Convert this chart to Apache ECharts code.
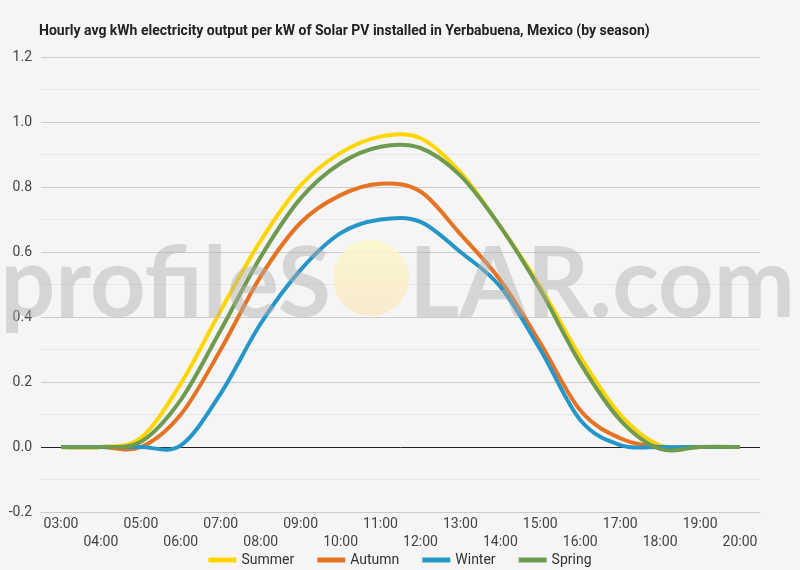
<!DOCTYPE html>
<html>
<head>
<meta charset="utf-8">
<script src="https://cdn.jsdelivr.net/npm/echarts@6/dist/echarts.min.js"></script>
<style>
html,body{margin:0;padding:0;background:#f5f5f5;}
#c{width:800px;height:570px;}
</style>
</head>
<body>
<div id="c"></div>
<script>
const hours = ['03:00','04:00','05:00','06:00','07:00','08:00','09:00','10:00','11:00','12:00','13:00','14:00','15:00','16:00','17:00','18:00','19:00','20:00'];
const summer = [0, 0, 0.028, 0.195, 0.42, 0.635, 0.805, 0.905, 0.955, 0.95, 0.845, 0.678, 0.493, 0.278, 0.10, 0.005, 0, 0];
const autumn = [0, 0, 0, 0.10, 0.30, 0.525, 0.69, 0.775, 0.81, 0.786, 0.655, 0.513, 0.32, 0.113, 0.027, 0, 0, 0];
const winter = [0, 0, 0, 0.005, 0.165, 0.38, 0.545, 0.658, 0.70, 0.693, 0.60, 0.493, 0.30, 0.083, 0.006, 0, 0, 0];
const spring = [0, 0, 0.016, 0.145, 0.36, 0.585, 0.765, 0.873, 0.924, 0.92, 0.835, 0.678, 0.483, 0.258, 0.083, -0.006, 0, 0];
const seriesNames = ['Summer','Autumn','Winter','Spring'];
const colors = ['#FFD500','#E67324','#2596C8','#6E9B4F'];
const yTicks = {min:-0.2, max:1.2, interval:0.2};

const chart = echarts.init(document.getElementById('c'));
const font = 'Roboto, "Noto Sans", sans-serif';

// Smooth curve (Catmull-Rom) through the points, positioned by the chart's own axes (api.coord)
function renderCurve(color){
  return function(params, api){
    if (params.dataIndexInside !== 0) return null;
    const n = params.dataInsideLength;
    const pts = [];
    for (let j = 0; j < n; j++) pts.push(api.coord([api.value(0, j), api.value(1, j)]));
    let d = 'M' + pts[0][0] + ' ' + pts[0][1];
    for (let j = 0; j < n - 1; j++) {
      const p0 = pts[Math.max(j - 1, 0)], p1 = pts[j], p2 = pts[j + 1], p3 = pts[Math.min(j + 2, n - 1)];
      const c1x = p1[0] + (p2[0] - p0[0]) / 6, c1y = p1[1] + (p2[1] - p0[1]) / 6;
      const c2x = p2[0] - (p3[0] - p1[0]) / 6, c2y = p2[1] - (p3[1] - p1[1]) / 6;
      d += ' C' + c1x + ' ' + c1y + ' ' + c2x + ' ' + c2y + ' ' + p2[0] + ' ' + p2[1];
    }
    return {type:'path', shape:{pathData:d}, style:{stroke:color, lineWidth:4, fill:'none', lineJoin:'round'}, silent:true};
  };
}
function mk(name, data, i){
  return {name:name, type:'custom', data:data.map(function(v, k){return [k, v];}),
    encode:{x:0, y:1}, clip:false, renderItem:renderCurve(colors[i]),
    itemStyle:{color:colors[i]}, z:2};
}
const wmFont = 'bold 97px Lato, "Noto Sans", sans-serif';
const wmFill = 'rgba(175,175,175,0.45)';
chart.setOption({
  backgroundColor:'#f5f5f5',
  animation:false,
  title:{text:'Hourly avg kWh electricity output per kW of Solar PV installed in Yerbabuena, Mexico (by season)',
    left:34, top:19, textStyle:{fontFamily:font, fontSize:14, fontWeight:'bold', color:'#222'}},
  grid:{left:41, right:40, top:57, bottom:58},
  legend:{bottom:3, left:'center', padding:[0,5,0,5], icon:'rect', itemWidth:28, itemHeight:5, itemGap:23,
    textStyle:{fontFamily:font, fontSize:14, color:'#333'}, data:seriesNames},
  xAxis:{type:'category', data:hours, boundaryGap:true,
    axisLine:{onZero:false, lineStyle:{color:'#ccc'}}, axisTick:{show:false},
    axisLabel:{interval:0, margin:3, fontFamily:font, fontSize:14, color:'#444', lineHeight:18,
      formatter:function(v,i){return i%2 ? '\n'+v : v;}}},
  yAxis:{type:'value', min:yTicks.min, max:yTicks.max, interval:yTicks.interval,
    axisLabel:{fontFamily:font, fontSize:14, color:'#444', margin:9, formatter:function(v){return v.toFixed(1);}},
    axisLine:{show:false}, axisTick:{show:false},
    splitLine:{lineStyle:{color:['#ccc','#222','#ccc','#ccc','#ccc','#ccc','#ccc','#ccc'], width:1}},
    minorTick:{show:false, splitNumber:2},
    minorSplitLine:{show:true, lineStyle:{color:'#e6e6e6'}}},
  graphic:[
    {type:'text', z:100, x:331, y:334, style:{text:'profileS', fill:wmFill, font:wmFont, textAlign:'right', textVerticalAlign:'bottom'}},
    {type:'circle', z:99, shape:{cx:371, cy:278, r:38}, style:{fill:new echarts.graphic.LinearGradient(0,0,0,1,[{offset:0,color:'rgba(252,248,200,0.85)'},{offset:1,color:'rgba(250,232,200,0.85)'}])}},
    {type:'text', z:100, x:409, y:334, style:{text:'LAR.com', fill:wmFill, font:wmFont, textAlign:'left', textVerticalAlign:'bottom'}}
  ],
  series:[mk('Summer',summer,0), mk('Autumn',autumn,1), mk('Winter',winter,2), mk('Spring',spring,3)]
});
</script>
</body>
</html>
